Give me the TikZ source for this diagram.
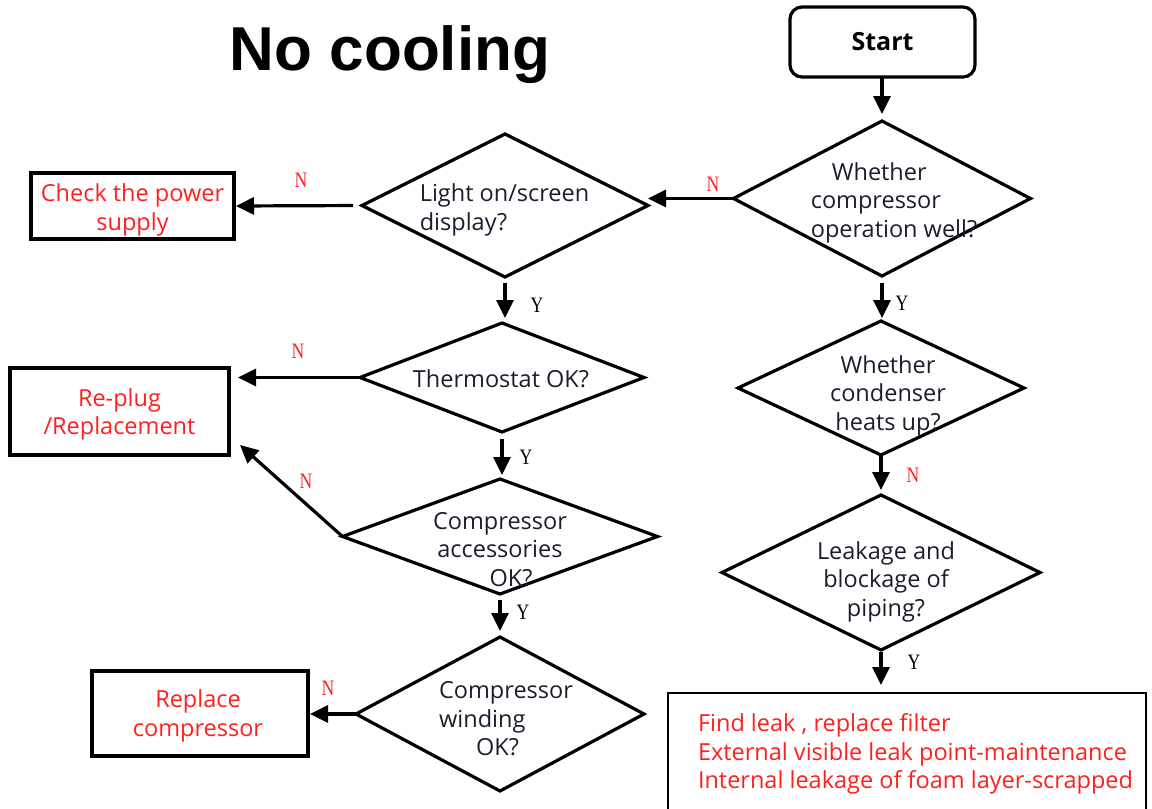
\documentclass[tikz,border=0pt]{standalone}
\usepackage{fontspec}
\usetikzlibrary{shapes.geometric,arrows.meta,calc}
\setmainfont{Open Sans}
\newfontfamily\titlefont{Liberation Sans}
\newfontfamily\ynfont{Liberation Serif}
\definecolor{warn}{HTML}{FF1F1F}
\definecolor{ink}{HTML}{1C1C2C}
\begin{document}
\begin{tikzpicture}[x=1pt,y=-1pt,
  every node/.style={inner sep=0pt,outer sep=0pt},
  body/.style={font=\fontsize{23.5}{28.5}\selectfont},
  dia/.style={diamond,draw,line width=3.2pt,minimum width=#1},
  box/.style={rectangle,draw,line width=3.2pt},
  boxtext/.style={body,text=warn,align=center},
  qtext/.style={body,text=ink},
  arr/.style={line width=3.2pt,-{Triangle[length=18pt,width=17pt]}},
  nlab/.style={font=\ynfont\fontsize{22}{22}\selectfont,text=warn,xscale=0.8},
  ylab/.style={font=\ynfont\fontsize{22}{22}\selectfont,text=black,xscale=0.8}]
\useasboundingbox (0,0) rectangle (1152,809);

% title
\node (title) at (390,55) {\titlefont\bfseries\fontsize{62}{62}\selectfont No cooling};

% start
\node[draw,line width=3.2pt,rounded corners=12pt,minimum width=185pt,minimum height=70pt,
      font=\bfseries\fontsize{25}{28}\selectfont] (start) at (882.5,42) {Start};

% decisions
\node[dia=297pt,minimum height=155pt] (d1) at (882,198.5) {};
\node[dia=286pt,minimum height=143pt] (d2) at (505,205.5) {};
\node[dia=284pt,minimum height=109pt] (d3) at (502,377.5) {};
\node[dia=315pt,minimum height=115pt] (d4) at (500,536.5) {};
\node[dia=288pt,minimum height=154pt] (d5) at (500,714) {};
\node[dia=286pt,minimum height=134pt] (d6) at (881,388) {};
\node[dia=318pt,minimum height=155pt] (d7) at (881,572.5) {};

\node[qtext,align=left] (t1) at (894,202.5) {\hspace*{21pt}Whether\\compressor\\operation well?};
\node[qtext,align=left] (t2) at (504.5,210) {Light on/screen\\display?};
\node[qtext] (t3) at (501,379) {Thermostat OK?};
\node[qtext,align=center] (t4) at (500,549.5) {Compressor\\accessories\\\hspace*{22pt}OK?};
\node[qtext,align=left] (t5) at (506,719) {Compressor\\winding\\\hspace*{37pt}OK?};
\node[qtext,align=center] (t6) at (888,395.5) {Whether\\condenser\\heats up?};
\node[qtext,align=center] (t7) at (886,581.5) {Leakage and\\blockage of\\piping?};

% actions
\node[box,minimum width=203pt,minimum height=66pt] (power) at (132.5,206) {};
\node[boxtext] (powertext) at (132.5,210) {Check the power\\supply};
\node[box,minimum width=219pt,minimum height=87pt] (replug) at (119.5,411.5) {};
\node[boxtext] (replugtext) at (119.5,414.5) {Re-plug\\/Replacement};
\node[box,minimum width=216pt,minimum height=85pt] (replace) at (200,713.5) {};
\node[boxtext] (replacetext) at (198,716) {Replace\\compressor};
\node[draw,line width=2pt,minimum width=478pt,minimum height=140pt] (leak) at (907,763) {};
\node[body,text=warn,align=left,anchor=west] (leaktext) at (698,754)
  {Find leak , replace filter\\External visible leak point-maintenance\\Internal leakage of foam layer-scrapped};

\coordinate (d4tip) at (240,445);

% connectors
\draw[arr,shorten >=7pt] (d1.north |- start.south) -- (d1.north);
\draw[arr] (d1.west) -- (d1.west -| d2.east);
\draw[arr,shorten <=9pt,shorten >=2pt] (d2.west) -- (power.east);
\draw[arr,shorten <=6pt,shorten >=5pt] (d2.south) -- (d2.south |- d3.north);
\draw[arr,shorten >=9pt] (d3.west) -- (d3.west -| replug.east);
\draw[arr,shorten <=7pt,shorten >=4pt] (d3.south) -- (d3.south |- d4.north);
\draw[arr] (d4.west) -- (d4tip);
\draw[arr,shorten <=6pt,shorten >=6pt] (d4.south) -- (d4.south |- d5.north);
\draw[arr,shorten >=2pt] (d5.west) -- (d5.west -| replace.east);
\draw[arr,shorten <=7pt,shorten >=3pt] (d1.south) -- (d1.south |- d6.north);
\draw[arr,shorten >=5pt] (d6.south) -- (d7.north);
\draw[arr,shorten <=2pt,shorten >=8pt] (d7.south) -- (d7.south |- leak.north);

% branch labels
\node[nlab] (n1) at (713,184) {N};
\node[nlab] (n2) at (301,180) {N};
\node[ylab] (y2) at (537,305) {Y};
\node[nlab] (n3) at (298,351) {N};
\node[ylab] (y3) at (526,457) {Y};
\node[nlab] (n4) at (306,481) {N};
\node[ylab] (y4) at (523,612) {Y};
\node[nlab] (n5) at (328,688) {N};
\node[ylab] (y1) at (902,303) {Y};
\node[nlab] (n6) at (913,475) {N};
\node[ylab] (y7) at (914,662) {Y};
\end{tikzpicture}
\end{document}
